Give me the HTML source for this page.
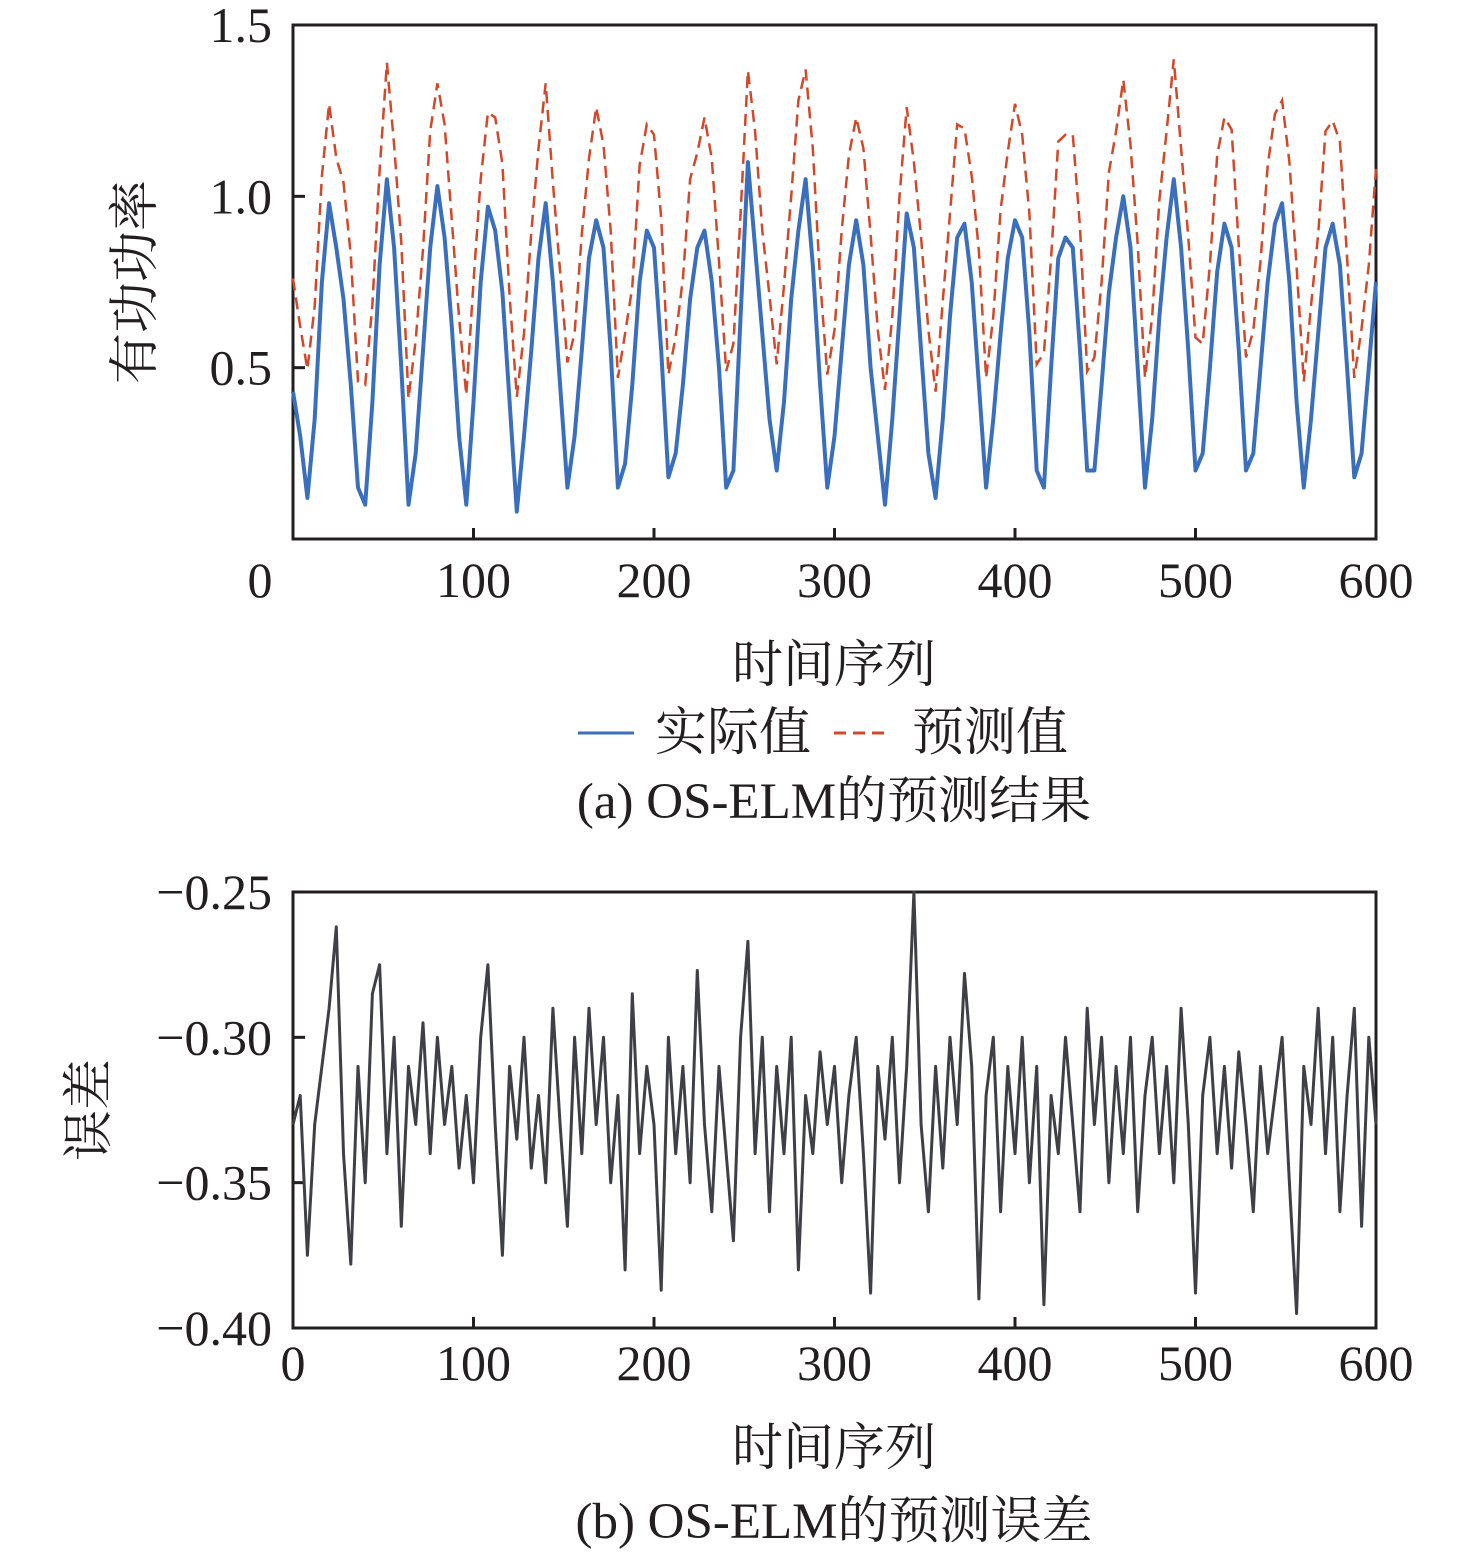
<!DOCTYPE html>
<html><head><meta charset="utf-8"><style>
body{margin:0;background:#fff}
svg{display:block}
text{font-family:"Liberation Serif","Noto Serif CJK SC",serif;fill:#231f20}
</style></head><body>
<svg id="fig" width="1476" height="1553" viewBox="0 0 1476 1553">
<g id="top"></g>
<g id="bot"></g>
<text x="834" y="682" font-size="51" text-anchor="middle">时间序列</text>
<g>
<line x1="578" y1="733" x2="634" y2="733" stroke="#3a6fbd" stroke-width="3"/>
<text x="655" y="750" font-size="52">实际值</text>
<line x1="834" y1="733" x2="890" y2="733" stroke="#d2482a" stroke-width="3" stroke-dasharray="12,7"/>
<text x="912" y="750" font-size="52">预测值</text>
</g>
<text x="834" y="818" font-size="51" text-anchor="middle">(a) OS-ELM的预测结果</text>
<text x="834" y="1465" font-size="51" text-anchor="middle">时间序列</text>
<text x="834" y="1538" font-size="51" text-anchor="middle">(b) OS-ELM的预测误差</text>
<text transform="translate(152,282) rotate(-90)" font-size="51" text-anchor="middle">有功功率</text>
<text transform="translate(106,1110) rotate(-90)" font-size="51" text-anchor="middle">误差</text>
</svg>
<script>
const STEP = 4;
const actual = [0.43,0.3,0.12,0.35,0.75,0.98,0.85,0.7,0.45,0.15,0.1,0.4,0.8,1.05,0.85,0.5,0.1,0.25,0.55,0.85,1.03,0.88,0.62,0.3,0.1,0.4,0.75,0.97,0.9,0.72,0.4,0.08,0.3,0.55,0.82,0.98,0.75,0.45,0.15,0.3,0.55,0.82,0.93,0.85,0.55,0.15,0.22,0.45,0.75,0.9,0.85,0.55,0.18,0.25,0.45,0.7,0.85,0.9,0.75,0.5,0.15,0.2,0.65,1.1,0.85,0.6,0.35,0.2,0.4,0.7,0.9,1.05,0.8,0.45,0.15,0.3,0.55,0.8,0.93,0.8,0.5,0.3,0.1,0.35,0.65,0.95,0.85,0.55,0.25,0.12,0.35,0.65,0.88,0.92,0.75,0.45,0.15,0.35,0.6,0.82,0.93,0.88,0.6,0.2,0.15,0.5,0.82,0.88,0.85,0.55,0.2,0.2,0.45,0.72,0.88,1.0,0.85,0.5,0.15,0.35,0.65,0.88,1.05,0.85,0.55,0.2,0.25,0.5,0.78,0.92,0.85,0.55,0.2,0.25,0.5,0.75,0.92,0.98,0.75,0.4,0.15,0.35,0.6,0.85,0.92,0.8,0.5,0.18,0.25,0.5,0.75];
const errorVals = [-0.33,-0.32,-0.375,-0.33,-0.31,-0.29,-0.262,-0.34,-0.378,-0.31,-0.35,-0.285,-0.275,-0.34,-0.3,-0.365,-0.31,-0.33,-0.295,-0.34,-0.3,-0.33,-0.31,-0.345,-0.32,-0.35,-0.3,-0.275,-0.33,-0.375,-0.31,-0.335,-0.3,-0.345,-0.32,-0.35,-0.29,-0.33,-0.365,-0.3,-0.34,-0.29,-0.33,-0.3,-0.35,-0.32,-0.38,-0.285,-0.34,-0.31,-0.33,-0.387,-0.3,-0.34,-0.31,-0.35,-0.277,-0.33,-0.36,-0.31,-0.34,-0.37,-0.3,-0.267,-0.34,-0.3,-0.36,-0.31,-0.34,-0.3,-0.38,-0.32,-0.34,-0.305,-0.33,-0.31,-0.35,-0.32,-0.3,-0.34,-0.388,-0.31,-0.335,-0.3,-0.35,-0.31,-0.25,-0.33,-0.36,-0.31,-0.345,-0.3,-0.33,-0.278,-0.31,-0.39,-0.32,-0.3,-0.36,-0.31,-0.34,-0.3,-0.35,-0.31,-0.392,-0.32,-0.34,-0.3,-0.33,-0.36,-0.29,-0.33,-0.3,-0.35,-0.31,-0.34,-0.3,-0.36,-0.32,-0.3,-0.34,-0.31,-0.35,-0.29,-0.33,-0.388,-0.32,-0.3,-0.34,-0.31,-0.345,-0.305,-0.33,-0.36,-0.31,-0.34,-0.32,-0.3,-0.35,-0.395,-0.31,-0.33,-0.29,-0.34,-0.3,-0.36,-0.32,-0.29,-0.365,-0.3,-0.33];
const xTicks = [0,100,200,300,400,500,600];
const topYTicks = [0.5,1.0,1.5];
const topYLabels = ["0.5","1.0","1.5"];
const botYTicks = [-0.25,-0.30,-0.35,-0.40];
const botYLabels = ["\u22120.25","\u22120.30","\u22120.35","\u22120.40"];

const NS = "http://www.w3.org/2000/svg";
function mk(parent, tag, attrs){const e=document.createElementNS(NS,tag);for(const k in attrs)e.setAttribute(k,attrs[k]);parent.appendChild(e);return e;}
const L=293,R=1376;
const xs = v => L + (v/600)*(R-L);
const yTop = v => 539 - v/1.5*(539-25);
const yBot = v => 892 + (-0.25 - v)/0.15*(1328-892);

function frame(g, top, bottom, yScale, yt, yl, xLabelY, lx){
  const r=mk(g,'rect',{x:L,y:top,width:R-L,height:bottom-top,fill:'none',stroke:'#231f20','stroke-width':3});
  
  
  xTicks.forEach((t,i)=>{
    const l=mk(g,'line',{x1:xs(t),x2:xs(t),y1:bottom,y2:bottom-11,stroke:'#231f20','stroke-width':3});
    
    
    const tx=mk(g,'text',{x:(i===0&&lx)?lx:xs(t),y:xLabelY,'font-size':50,'text-anchor':'middle'});
    tx.textContent=String(t);
    
    
  });
  yt.forEach((t,i)=>{
    const l=mk(g,'line',{x1:L,x2:L+12,y1:yScale(t),y2:yScale(t),stroke:'#231f20','stroke-width':3});
    
    
    const tx=mk(g,'text',{x:272,y:yScale(t)+17,'font-size':50,'text-anchor':'end'});
    tx.textContent=yl[i];
    
    
  });
}
const gt=document.getElementById('top'), gb=document.getElementById('bot');
frame(gt,25,539,yTop,topYTicks,topYLabels,597,260);
frame(gb,892,1328,yBot,botYTicks,botYLabels,1380,null);
const n=Math.min(actual.length,errorVals.length);
let pA='',pP='',pE='';
for(let i=0;i<n;i++){
  const x=xs(i*STEP).toFixed(1);
  const c=i?'L':'M';
  pA+=c+x+','+yTop(actual[i]).toFixed(1);
  pP+=c+x+','+yTop(actual[i]-errorVals[i]).toFixed(1);
  pE+=c+x+','+yBot(errorVals[i]).toFixed(1);
}
const lp=mk(gt,'path',{d:pP,fill:'none',stroke:'#d2482a','stroke-width':2.5,'stroke-dasharray':'12,7'});


const la=mk(gt,'path',{d:pA,fill:'none',stroke:'#3a6fbd','stroke-width':4,'stroke-linejoin':'round'});


const le=mk(gb,'path',{d:pE,fill:'none',stroke:'#3f4046','stroke-width':3,'stroke-linejoin':'round'});


</script>
</body></html>
